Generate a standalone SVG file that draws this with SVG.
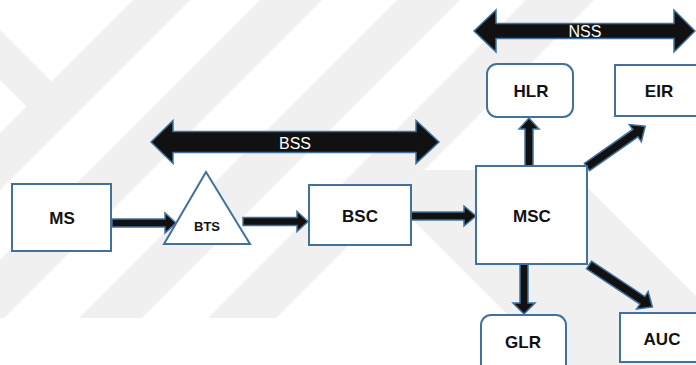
<svg xmlns="http://www.w3.org/2000/svg" width="696" height="365" viewBox="0 0 696 365">
  <style>
    .stripe { fill: #f0f0f0; }
    .box { fill: #ffffff; stroke: #41719c; stroke-width: 2; }
    .arrow { fill: #111111; stroke: #41719c; stroke-width: 1.5; stroke-linejoin: miter; }
    .label { font-family: "Liberation Sans", Arial, sans-serif; font-weight: bold; font-size: 17px; fill: #111111; text-anchor: middle; }
    .small { font-size: 13px; }
    .span-label { font-family: "Liberation Sans", Arial, sans-serif; font-size: 16px; fill: #ffffff; text-anchor: middle; }
  </style>

  <rect width="696" height="365" fill="#ffffff"/>

  <!-- light diagonal stripes in the background -->
  <g id="background">
    <polygon class="stripe" points="0,30 52.5,82.5 27.5,107.5 0,80"/>
    <polygon class="stripe" points="133,0 190,0 -128,318 -185,318"/>
    <polygon class="stripe" points="260,0 322,0 4,318 -58,318"/>
    <polygon class="stripe" points="397,0 460,0 142,318 79,318"/>
    <polygon class="stripe" points="526,0 594,0 276,318 208,318"/>
    <polygon class="stripe" points="393.5,200.5 424,170 570,170 765,365 558,365"/>
  </g>

  <!-- connectors -->
  <g id="connectors">
    <path id="bss-span" class="arrow" d="M151,142 L173,120.5 V131.5 H416 V120.5 L439,142 L416,163.5 V152.5 H173 V163.5 Z"/>
    <path id="nss-span" class="arrow" d="M474,31 L496,10 V23.5 H674 V10 L695,31 L674,52 V38.5 H496 V52 Z"/>
    <path id="ms-bts" class="arrow" d="M112,219 H165 V213 L176,223 L165,233 V227 H112 Z"/>
    <path id="bts-bsc" class="arrow" d="M243,217.5 H297 V211.5 L308,221.5 L297,231.5 V225.5 H243 Z"/>
    <path id="bsc-msc" class="arrow" d="M411,212 H464 V206 L476,216 L464,226 V220 H411 Z"/>
    <path id="msc-hlr" class="arrow" d="M525,166 V129 H519 L529,118 L539,129 H533 V166 Z"/>
    <path id="msc-glr" class="arrow" d="M520,264 V303 H513 L524,314 L535,303 H528 V264 Z"/>
    <path id="msc-eir" class="arrow" transform="translate(587,167) rotate(-35)" d="M0,-4.5 H59 V-10.5 L71,0 L59,10.5 V4.5 H0 Z"/>
    <path id="msc-auc" class="arrow" transform="translate(589,265) rotate(33.5)" d="M0,-4.5 H64 V-10.5 L76,0 L64,10.5 V4.5 H0 Z"/>
    <text class="span-label" x="295" y="149">BSS</text>
    <text class="span-label" x="585" y="37">NSS</text>
  </g>

  <g id="ms">
    <rect class="box" x="12" y="184" width="99" height="67"/>
    <text class="label" x="62" y="224">MS</text>
  </g>

  <g id="bts">
    <polygon class="box" points="206,172 250,244 164,244"/>
    <text class="label small" x="207" y="231">BTS</text>
  </g>

  <g id="bsc">
    <rect class="box" x="309" y="185" width="102" height="60"/>
    <text class="label" x="360" y="222">BSC</text>
  </g>

  <g id="msc">
    <rect class="box" x="476" y="166" width="111" height="98"/>
    <text class="label" x="532" y="222">MSC</text>
  </g>

  <g id="hlr">
    <rect class="box" x="487" y="64" width="86" height="53" rx="10"/>
    <text class="label" x="531" y="97">HLR</text>
  </g>

  <g id="eir">
    <rect class="box" x="615" y="65" width="90" height="51"/>
    <text class="label" x="659" y="97">EIR</text>
  </g>

  <g id="glr">
    <rect class="box" x="481" y="315" width="85" height="60" rx="10"/>
    <text class="label" x="523" y="348">GLR</text>
  </g>

  <g id="auc">
    <rect class="box" x="620" y="313" width="86" height="49"/>
    <text class="label" x="662" y="345">AUC</text>
  </g>
</svg>
